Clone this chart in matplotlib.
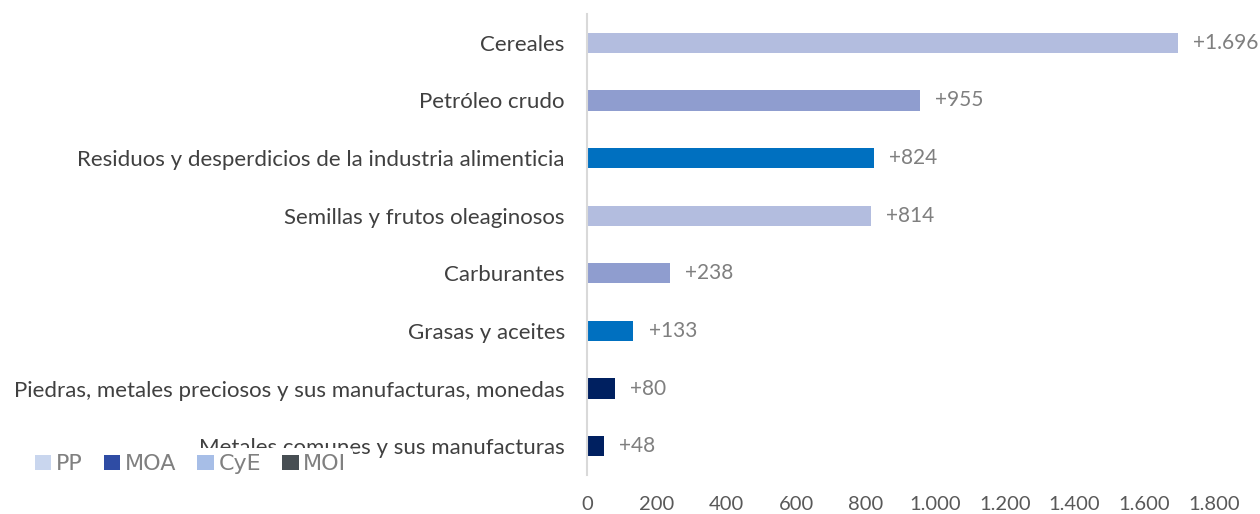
import matplotlib
matplotlib.use("Agg")
import matplotlib.pyplot as plt
from matplotlib.patches import Patch

categories = [
    "Cereales",
    "Petróleo crudo",
    "Residuos y desperdicios de la industria alimenticia",
    "Semillas y frutos oleaginosos",
    "Carburantes",
    "Grasas y aceites",
    "Piedras, metales preciosos y sus manufacturas, monedas",
    "Metales comunes y sus manufacturas",
]
values = [1696, 955, 824, 814, 238, 133, 80, 48]
groups = ["PP", "CyE", "MOA", "PP", "CyE", "MOA", "MOI", "MOI"]
xticks = [0, 200, 400, 600, 800, 1000, 1200, 1400, 1600, 1800]

bar_colors = {"PP": "#b3bddf", "CyE": "#8f9dcf", "MOA": "#0070c0", "MOI": "#002060"}
legend_names = ["PP", "MOA", "CyE", "MOI"]
legend_colors = ["#c9d6ee", "#2f4ca4", "#a7bee7", "#474e53"]

plt.rcParams["font.family"] = ["Lato", "DejaVu Sans"]

fig = plt.figure(figsize=(12.6, 5.14), dpi=100)
ax = fig.add_axes([587 / 1260, 1 - 475 / 514, (1214 - 587) / 1260, (475 - 14) / 514])

ypos = list(range(len(categories)))
ax.barh(ypos, values, height=0.35, color=[bar_colors[g] for g in groups], zorder=2)
ax.set_ylim(len(categories) - 0.5, -0.5)
ax.set_xlim(0, 1800)

def fmt(v):
    return "{:,}".format(v).replace(",", ".")

for y, v in zip(ypos, values):
    ax.annotate("+" + fmt(v), xy=(v, y), xytext=(11, 0), textcoords="offset points",
                ha="left", va="center", fontsize=15, color="#7f7f7f")

ax.set_yticks(ypos)
ax.set_yticklabels(categories, fontsize=16, color="#404040")
ax.set_xticks(xticks)
ax.set_xticklabels([fmt(t) for t in xticks], fontsize=14.5, color="#595959")
ax.tick_params(axis="both", length=0)
ax.tick_params(axis="y", pad=16)
ax.tick_params(axis="x", pad=15)
for s in ["top", "right", "bottom"]:
    ax.spines[s].set_visible(False)
ax.spines["left"].set_color("#d9d9d9")
ax.spines["left"].set_linewidth(1.5)

handles = [Patch(facecolor=c, edgecolor="none") for c in legend_colors]
leg = fig.legend(handles, legend_names, loc="lower left", bbox_to_anchor=(28 / 1260, 1 - 481 / 514),
                 borderaxespad=0, ncol=4, frameon=True, facecolor="white", edgecolor="none",
                 framealpha=1, handlelength=0.75, handleheight=0.6, handletextpad=0.2,
                 columnspacing=0.95, borderpad=0.3, labelcolor="#808080",
                 prop={"family": ["DejaVu Sans"], "size": 16})
leg.set_zorder(10)

fig.savefig("out.png", dpi=100)
